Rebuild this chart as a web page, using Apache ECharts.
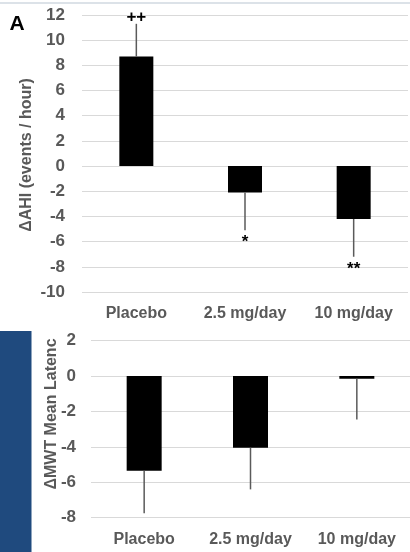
<!DOCTYPE html>
<html>
<head>
<meta charset="utf-8">
<script src="https://cdn.jsdelivr.net/npm/echarts@6/dist/echarts.min.js"></script>
<style>
  html, body { margin: 0; padding: 0; background: #ffffff; }
  #chart { width: 410px; height: 552px; }
</style>
</head>
<body>
<div id="chart"></div>
<script>
// Treatment groups
var categories = ['Placebo', '2.5 mg/day', '10 mg/day'];

// Panel A: change in apnea-hypopnea index (events / hour)
var ahiMean = [8.7, -2.1, -4.2];
var ahiErr = [2.6, 3.0, 3.0];
var ahiMarks = ['++', '*', '**'];
var ahiTicks = { min: -10, max: 12, interval: 2 };

// Lower panel: change in MWT mean latency
var mwtMean = [-5.35, -4.05, -0.15];
var mwtErr = [2.4, 2.35, 2.3];
var mwtTicks = { min: -8, max: 2, interval: 2 };

var FONT = '"Liberation Sans", Arial, sans-serif';
var TEXT_GREY = '#595959';

// One-sided error whisker (drawn away from zero) plus optional significance mark
function whisker(marks) {
  return function (params, api) {
    var i = api.value(0);
    var mean = api.value(1);
    var err = api.value(2);
    var end = mean >= 0 ? mean + err : mean - err;
    var p0 = api.coord([i, mean]);
    var p1 = api.coord([i, end]);
    var children = [{
      type: 'line',
      shape: { x1: p0[0], y1: p0[1], x2: p1[0], y2: p1[1] },
      style: { stroke: '#5a5a5a', lineWidth: 1.5 }
    }];
    if (marks && marks[i]) {
      var up = mean >= 0;
      children.push({
        type: 'text',
        x: p1[0],
        y: up ? p1[1] + 2 : p1[1] + 4,
        style: {
          text: marks[i],
          fill: '#000000',
          font: 'bold 17px ' + FONT,
          align: 'center',
          verticalAlign: up ? 'bottom' : 'top'
        }
      });
    }
    return { type: 'group', children: children };
  };
}

function errData(mean, err) {
  return mean.map(function (m, i) { return [i, m, err[i]]; });
}

var yLabelStyle = { color: TEXT_GREY, fontFamily: FONT, fontWeight: 'bold', fontSize: 17 };
var xLabelStyle = { color: TEXT_GREY, fontFamily: FONT, fontWeight: 'bold', fontSize: 16, margin: 14, interval: 0 };

var chart = echarts.init(document.getElementById('chart'), null, { renderer: 'canvas' });

chart.setOption({
  animation: false,
  backgroundColor: '#ffffff',
  grid: [
    { left: 82, top: 15, width: 326, height: 277 },
    { left: 91, top: 340.7, width: 321, height: 177 }
  ],
  xAxis: [
    {
      type: 'category', gridIndex: 0, data: categories,
      axisLine: { show: false }, axisTick: { show: false },
      axisLabel: xLabelStyle
    },
    {
      type: 'category', gridIndex: 1, data: categories,
      axisLine: { show: false }, axisTick: { show: false },
      axisLabel: xLabelStyle
    }
  ],
  yAxis: [
    {
      type: 'value', gridIndex: 0,
      min: ahiTicks.min, max: ahiTicks.max, interval: ahiTicks.interval,
      axisLine: { show: false }, axisTick: { show: false },
      axisLabel: Object.assign({ margin: 17 }, yLabelStyle),
      splitLine: { lineStyle: { color: '#d9d9d9', width: 1 } }
    },
    {
      type: 'value', gridIndex: 1,
      min: mwtTicks.min, max: mwtTicks.max, interval: mwtTicks.interval,
      axisLine: { show: false }, axisTick: { show: false },
      axisLabel: Object.assign({ margin: 15 }, yLabelStyle),
      splitLine: { lineStyle: { color: '#d9d9d9', width: 1 } }
    }
  ],
  graphic: [
    // thin frame line along the top edge
    { type: 'rect', shape: { x: 0, y: 2.5, width: 410, height: 1 }, style: { fill: '#b9c5d2' }, silent: true },
    // blue side panel next to the lower chart
    { type: 'rect', shape: { x: 0, y: 331, width: 31.5, height: 221 }, style: { fill: '#1f4a7e' }, silent: true },
    // panel letter
    { type: 'text', x: 17, y: 24, style: { text: 'A', fill: '#000000', font: 'bold 21px ' + FONT, align: 'center', verticalAlign: 'middle' } },
    // axis titles
    { type: 'text', x: 27, y: 155, rotation: Math.PI / 2,
      style: { text: '\u0394AHI (events / hour)', fill: TEXT_GREY, font: 'bold 16px ' + FONT, align: 'center', verticalAlign: 'middle' } },
    { type: 'text', x: 52, y: 414, rotation: Math.PI / 2,
      style: { text: '\u0394MWT Mean Latenc', fill: TEXT_GREY, font: 'bold 16px ' + FONT, align: 'center', verticalAlign: 'middle' } }
  ],
  series: [
    {
      type: 'bar', xAxisIndex: 0, yAxisIndex: 0, data: ahiMean,
      barWidth: 34, itemStyle: { color: '#000000' }, z: 2
    },
    {
      type: 'custom', xAxisIndex: 0, yAxisIndex: 0,
      data: errData(ahiMean, ahiErr), renderItem: whisker(ahiMarks), z: 3
    },
    {
      type: 'bar', xAxisIndex: 1, yAxisIndex: 1, data: mwtMean,
      barWidth: 35, itemStyle: { color: '#000000' }, z: 2
    },
    {
      type: 'custom', xAxisIndex: 1, yAxisIndex: 1,
      data: errData(mwtMean, mwtErr), renderItem: whisker(null), z: 3
    }
  ]
});
</script>
</body>
</html>
